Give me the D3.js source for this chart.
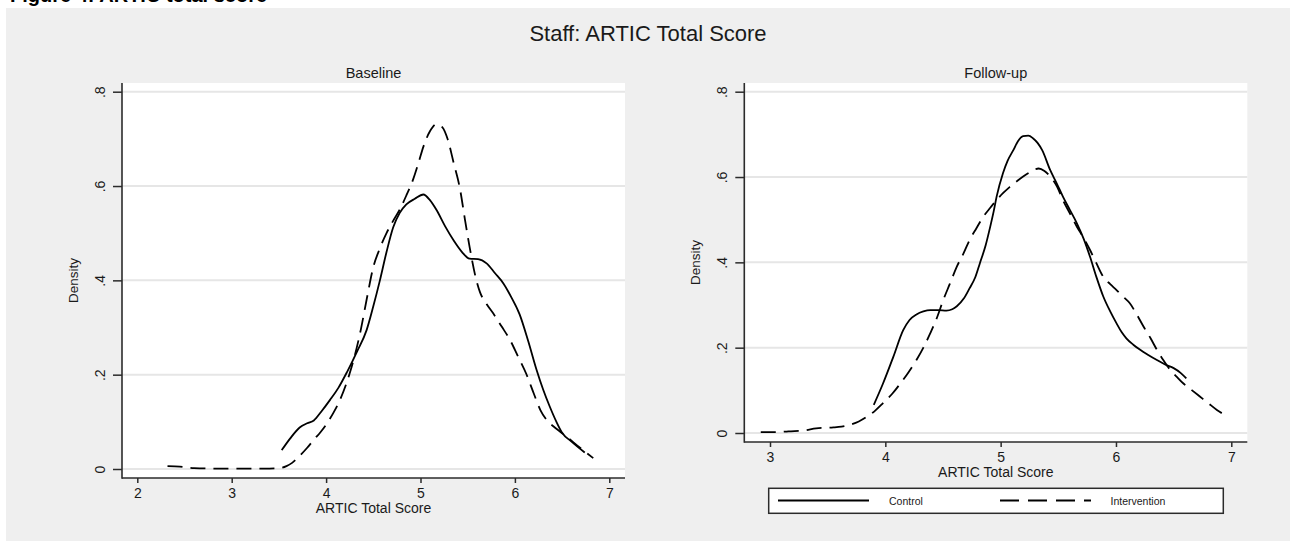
<!DOCTYPE html>
<html><head><meta charset="utf-8">
<script src="https://cdn.jsdelivr.net/npm/d3@7"></script>
<style>
body{margin:0;background:#fff}
svg{display:block}
text{font-family:"Liberation Sans",Arial,sans-serif;fill:#1a1a1a}
</style>
</head><body>
<svg id="chart" width="1290" height="541"></svg>
<script>
// ---------- data ----------
const figureCaption = "Figure 4: ARTIC total score";
const mainTitle = "Staff: ARTIC Total Score";
const panelTitles = ["Baseline", "Follow-up"];
const seriesNames = ["Control", "Intervention"];
const xAxisTitle = "ARTIC Total Score";
const yAxisTitle = "Density";
const yTicks = [0, 0.2, 0.4, 0.6, 0.8];
const yTickLabels = ["0", ".2", ".4", ".6", ".8"];
const xTicksBaseline = [2, 3, 4, 5, 6, 7];
const xTicksFollowup = [3, 4, 5, 6, 7];

// [score, density]
const baselineControl = [[3.53,0.040],[3.62,0.065],[3.72,0.088],[3.80,0.097],[3.87,0.103],[3.95,0.122],[4.04,0.146],[4.13,0.172],[4.22,0.205],[4.33,0.250],[4.43,0.295],[4.50,0.345],[4.57,0.400],[4.64,0.460],[4.71,0.512],[4.78,0.543],[4.85,0.561],[4.94,0.573],[5.03,0.582],[5.10,0.570],[5.17,0.549],[5.26,0.515],[5.35,0.485],[5.44,0.460],[5.52,0.446],[5.61,0.445],[5.70,0.436],[5.79,0.415],[5.88,0.393],[5.96,0.365],[6.05,0.328],[6.14,0.272],[6.23,0.210],[6.30,0.168],[6.37,0.132],[6.44,0.100],[6.50,0.077],[6.60,0.058],[6.74,0.035]];
const baselineIntervention = [[2.32,0.006],[2.45,0.005],[2.60,0.002],[2.80,0.001],[3.00,0.001],[3.20,0.001],[3.40,0.001],[3.51,0.002],[3.58,0.006],[3.64,0.013],[3.72,0.028],[3.80,0.045],[3.87,0.062],[3.94,0.078],[4.01,0.097],[4.08,0.120],[4.15,0.148],[4.25,0.203],[4.36,0.288],[4.43,0.360],[4.50,0.428],[4.57,0.468],[4.64,0.500],[4.71,0.526],[4.78,0.550],[4.85,0.580],[4.92,0.613],[4.98,0.650],[5.03,0.683],[5.10,0.716],[5.17,0.731],[5.23,0.725],[5.29,0.698],[5.35,0.650],[5.42,0.592],[5.47,0.530],[5.52,0.471],[5.58,0.410],[5.63,0.375],[5.70,0.350],[5.77,0.330],[5.86,0.302],[5.95,0.273],[6.03,0.240],[6.12,0.202],[6.20,0.160],[6.27,0.125],[6.34,0.103],[6.41,0.090],[6.48,0.079],[6.55,0.068],[6.69,0.045],[6.83,0.023]];
const followupControl = [[3.90,0.066],[3.98,0.116],[4.07,0.179],[4.155,0.241],[4.21,0.265],[4.27,0.278],[4.33,0.285],[4.39,0.288],[4.46,0.288],[4.53,0.287],[4.58,0.290],[4.62,0.297],[4.68,0.315],[4.73,0.339],[4.78,0.365],[4.82,0.398],[4.87,0.440],[4.91,0.484],[4.94,0.520],[4.965,0.554],[5.02,0.609],[5.06,0.638],[5.11,0.663],[5.15,0.684],[5.195,0.696],[5.24,0.697],[5.28,0.691],[5.32,0.680],[5.36,0.663],[5.43,0.616],[5.49,0.583],[5.54,0.554],[5.60,0.523],[5.66,0.492],[5.72,0.455],[5.775,0.413],[5.83,0.366],[5.89,0.320],[5.95,0.285],[6.005,0.257],[6.05,0.236],[6.09,0.222],[6.15,0.207],[6.21,0.195],[6.28,0.183],[6.355,0.171],[6.43,0.160],[6.50,0.152],[6.56,0.141],[6.61,0.128]];
const followupIntervention = [[2.92,0.002],[3.05,0.002],[3.16,0.004],[3.30,0.006],[3.40,0.011],[3.55,0.013],[3.62,0.015],[3.69,0.019],[3.77,0.027],[3.84,0.038],[3.91,0.052],[3.98,0.070],[4.06,0.092],[4.13,0.116],[4.20,0.142],[4.27,0.171],[4.33,0.200],[4.39,0.234],[4.45,0.272],[4.50,0.310],[4.56,0.350],[4.62,0.390],[4.68,0.422],[4.73,0.452],[4.79,0.480],[4.85,0.507],[4.91,0.528],[4.965,0.546],[5.02,0.562],[5.08,0.577],[5.14,0.590],[5.195,0.601],[5.26,0.612],[5.33,0.620],[5.38,0.614],[5.43,0.601],[5.49,0.577],[5.54,0.546],[5.60,0.515],[5.66,0.484],[5.72,0.457],[5.775,0.429],[5.83,0.398],[5.89,0.366],[5.95,0.349],[6.005,0.335],[6.06,0.320],[6.12,0.304],[6.18,0.278],[6.24,0.249],[6.30,0.222],[6.355,0.195],[6.41,0.171],[6.47,0.148],[6.53,0.131],[6.585,0.116],[6.66,0.100],[6.73,0.085],[6.80,0.070],[6.875,0.054],[6.975,0.038]];

// ---------- layout ----------
const BG = "#efefef", GRID = "#e6e6e6", AX = "#2b2b2b";
const CURVE_DASH = "15,8", LEGEND_DASH = "19,9";

const panels = [
  { title: panelTitles[0], x0: 122, x1: 625, y0: 83, y1: 478,
    xd: [2, 7], xr: [137.3, 609.3], yr: [469, 91.7], xticks: xTicksBaseline,
    series: [baselineControl, baselineIntervention] },
  { title: panelTitles[1], x0: 744.3, x1: 1247.3, y0: 83, y1: 442,
    xd: [3, 7], xr: [770, 1231.3], yr: [433, 91.7], xticks: xTicksFollowup,
    series: [followupControl, followupIntervention] }
];

const svg = d3.select("#chart");

// caption cut at top (as in the reference)
svg.append("text").attr("x", 10).attr("y", 1.5)
  .style("font-weight", "bold").style("font-size", "20px").style("fill", "#000")
  .text(figureCaption);

svg.append("rect").attr("x", 6).attr("y", 8).attr("width", 1284).attr("height", 533).attr("fill", BG);

svg.append("text").attr("x", 648).attr("y", 41).attr("text-anchor", "middle")
  .style("font-size", "22px").text(mainTitle);

panels.forEach(p => {
  const x = d3.scaleLinear().domain(p.xd).range(p.xr);
  const y = d3.scaleLinear().domain([0, 0.8]).range(p.yr);
  const g = svg.append("g");

  g.append("rect").attr("x", p.x0).attr("y", p.y0)
    .attr("width", p.x1 - p.x0).attr("height", p.y1 - p.y0).attr("fill", "#fff");

  // gridlines
  g.selectAll(".grid").data(yTicks).join("line")
    .attr("x1", p.x0).attr("x2", p.x1)
    .attr("y1", d => y(d)).attr("y2", d => y(d))
    .attr("stroke", GRID).attr("stroke-width", 2);

  // curves
  const line = d3.line().x(d => x(d[0])).y(d => y(d[1])).curve(d3.curveMonotoneX);
  p.series.forEach((s, i) => {
    g.append("path").datum(s).attr("d", line)
      .attr("fill", "none").attr("stroke", "#000").attr("stroke-width", 1.8)
      .attr("stroke-dasharray", i === 1 ? CURVE_DASH : null);
  });

  // y axis
  const ya = g.append("g").attr("transform", `translate(${p.x0},0)`)
    .call(d3.axisLeft(y).tickValues(yTicks).tickSize(9)
      .tickFormat((d, i) => yTickLabels[i]));
  ya.select(".domain").remove();
  ya.selectAll(".tick line").attr("stroke", AX).attr("stroke-width", 1.5);
  ya.selectAll(".tick text")
    .attr("x", null).attr("dy", null).attr("y", null)
    .attr("text-anchor", "middle")
    .attr("transform", "translate(-17,0) rotate(-90)")
    .style("font-size", "14px").style("fill", "#1a1a1a");

  // x axis
  const xa = g.append("g").attr("transform", `translate(0,${p.y1})`)
    .call(d3.axisBottom(x).tickValues(p.xticks).tickSize(5).tickPadding(5)
      .tickFormat(d3.format("d")));
  xa.select(".domain").remove();
  xa.selectAll(".tick line").attr("stroke", AX).attr("stroke-width", 1.5);
  xa.selectAll(".tick text").style("font-size", "14px").style("fill", "#1a1a1a");

  // axis lines
  g.append("line").attr("x1", p.x0).attr("x2", p.x0).attr("y1", p.y0).attr("y2", p.y1 + 0.75)
    .attr("stroke", AX).attr("stroke-width", 1.6);
  g.append("line").attr("x1", p.x0).attr("x2", p.x1).attr("y1", p.y1).attr("y2", p.y1)
    .attr("stroke", AX).attr("stroke-width", 1.6);

  // titles
  const cx = (p.x0 + p.x1) / 2, cy = (p.y0 + p.y1) / 2;
  g.append("text").attr("x", cx).attr("y", 78).attr("text-anchor", "middle")
    .style("font-size", "14.5px").text(p.title);
  g.append("text").attr("x", cx).attr("y", p.y1 + 35).attr("text-anchor", "middle")
    .style("font-size", "14px").text(xAxisTitle);
  g.append("text").attr("transform", `translate(${p.x0 - 44},${cy}) rotate(-90)`)
    .attr("text-anchor", "middle").style("font-size", "13.5px").text(yAxisTitle);
});

// legend
const lg = svg.append("g");
lg.append("rect").attr("x", 768.7).attr("y", 488.3).attr("width", 454.6).attr("height", 25)
  .attr("fill", "#fff").attr("stroke", AX).attr("stroke-width", 1.5);
const legendItems = [
  { name: seriesNames[0], lx: 778, tx: 889, dash: null },
  { name: seriesNames[1], lx: 1000, tx: 1110.5, dash: LEGEND_DASH }
];
legendItems.forEach(it => {
  lg.append("line").attr("x1", it.lx).attr("x2", it.lx + 91).attr("y1", 500.5).attr("y2", 500.5)
    .attr("stroke", "#000").attr("stroke-width", 2).attr("stroke-dasharray", it.dash);
  lg.append("text").attr("x", it.tx).attr("y", 504.5).style("font-size", "10.5px").text(it.name);
});
</script>
</body></html>
